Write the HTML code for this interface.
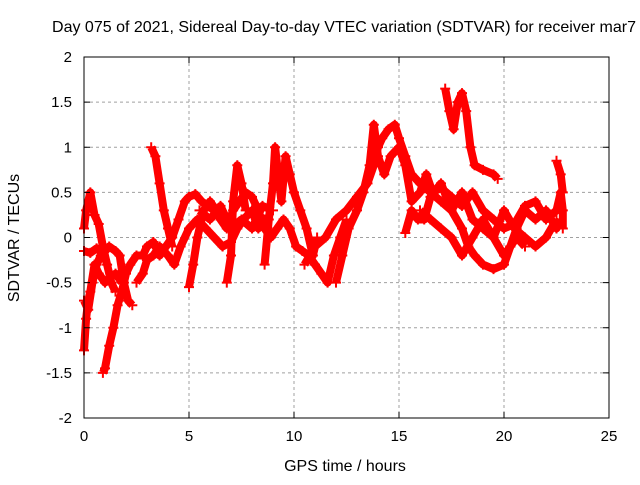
<!DOCTYPE html>
<html><head><meta charset="utf-8"><style>
body{margin:0;background:#fff}
text{font-family:"Liberation Sans",sans-serif;font-size:15px;fill:#000}
</style></head><body>
<svg id="c" width="640" height="480">
<rect width="640" height="480" fill="#fff"/>
<g id="grid"></g><g id="data"></g><g id="axes"></g>
<text x="344" y="32" text-anchor="middle" style="font-size:16px">Day 075 of 2021, Sidereal Day-to-day VTEC variation (SDTVAR) for receiver mar7</text>
<text x="345" y="471" text-anchor="middle" style="font-size:16px">GPS time / hours</text>
<text x="19" y="238" text-anchor="middle" style="font-size:16px" transform="rotate(-90 19 238)">SDTVAR / TECUs</text>
</svg>
<script>
const xTicks=[0,5,10,15,20,25];
const yTicks=[-2,-1.5,-1,-0.5,0,0.5,1,1.5,2];
const trackA=[[0,-0.15],[0.3,-0.17],[0.6,-0.12],[0.9,-0.18],[1.2,-0.1],[1.5,-0.15],[1.7,-0.2],[1.9,-0.5],[2.1,-0.7],[2.3,-0.75]];
const trackB=[[0,-1.25],[0.1,-0.9],[0.2,-0.7],[0.3,-0.6],[0.5,-0.3],[0.7,-0.4],[1.0,-0.5],[1.2,-0.45],[1.5,-0.4],[1.8,-0.5]];
const trackC=[[0,0.1],[0.1,0.3],[0.3,0.5],[0.5,0.25],[0.7,0.15],[0.9,-0.1],[1.1,-0.3],[1.3,-0.5],[1.5,-0.6]];
const trackC2=[[0,-0.7],[0.2,-0.8],[0.4,-0.5],[0.6,-0.3],[0.8,-0.2],[1.0,-0.25]];
const trackD=[[0.9,-1.5],[1.0,-1.45],[1.2,-1.2],[1.4,-1.0],[1.6,-0.75],[1.8,-0.6],[2.0,-0.4],[2.2,-0.3],[2.5,-0.2],[2.8,-0.2],[3.0,-0.1],[3.3,-0.05],[3.6,-0.2],[3.9,-0.1],[4.2,0.0],[4.5,0.2],[4.8,0.4],[5.0,0.45],[5.3,0.48],[5.6,0.4],[5.9,0.35],[6.2,0.3],[6.5,0.2],[6.8,0.1],[7.1,0.3],[7.4,0.4],[7.7,0.5],[8.0,0.45],[8.3,0.3],[8.6,0.1],[8.9,0.0],[9.2,0.1],[9.5,0.2],[9.8,0.1],[10.1,-0.1],[10.4,-0.15],[10.7,-0.2],[11.0,-0.3],[11.3,-0.4],[11.6,-0.5],[11.9,-0.2],[12.2,0.0],[12.5,0.2]];
const trackE=[[3.2,1.0],[3.4,0.9],[3.6,0.6],[3.8,0.3],[4.0,0.1],[4.2,-0.1]];
const trackF=[[2.5,-0.5],[2.8,-0.4],[3.0,-0.25],[3.3,-0.2],[3.6,-0.1],[4.0,-0.2],[4.3,-0.3],[4.6,-0.1],[5.0,0.1],[5.4,0.2],[5.8,0.1],[6.2,0.0],[6.6,-0.1],[7.0,-0.05],[7.3,0.1],[7.6,0.2],[8.0,0.3],[8.3,0.1],[8.6,0.2]];
const trackG=[[8.6,-0.3],[8.8,0.2],[9.0,0.6],[9.1,1.0],[9.2,0.8],[9.4,0.4],[9.6,0.9],[9.8,0.7],[10.0,0.5],[10.3,0.3],[10.6,0.1],[10.9,-0.2],[11.1,0.0]];
const trackH=[[6.8,-0.5],[7.0,-0.2],[7.1,0.4],[7.3,0.8],[7.5,0.6],[7.7,0.3]];
const trackI=[[5.0,-0.55],[5.2,-0.3],[5.4,0.0],[5.7,0.3],[6.0,0.4],[6.3,0.3]];
const trackJ=[[10.5,-0.3],[11.0,-0.1],[11.5,0.0],[12.0,0.2],[12.5,0.3],[13.0,0.45],[13.5,0.6],[13.8,0.8],[14.0,1.0],[14.2,1.1],[14.5,1.2],[14.8,1.25],[15.0,1.1],[15.3,0.9],[15.6,0.7],[16.0,0.6],[16.5,0.5],[17.0,0.4],[17.5,0.3],[18.0,0.1],[18.3,-0.1],[18.6,-0.2],[19.0,-0.3],[19.5,-0.35],[20.0,-0.3],[20.3,-0.1],[20.6,0.0],[21.0,-0.1]];
const trackK=[[12.0,-0.5],[12.3,-0.2],[12.6,0.1],[13.0,0.3],[13.3,0.5],[13.6,0.8],[13.8,1.25],[14.0,0.9],[14.3,0.7],[14.6,0.9],[15.0,1.0],[15.3,0.8],[15.6,0.4],[16.0,0.5],[16.3,0.7],[16.6,0.5],[17.0,0.55],[17.5,0.45],[18.0,0.35],[18.5,0.5],[19.0,0.3],[19.5,0.2],[20.0,0.1],[20.5,0.15],[21.0,0.35],[21.5,0.4],[22.0,0.2],[22.5,0.3],[22.7,0.5],[22.8,0.3],[22.8,0.1]];
const trackL=[[15.3,0.05],[15.6,0.3],[15.9,0.2],[16.2,0.2],[16.5,0.45],[17.0,0.6],[17.5,0.3],[18.0,0.5],[18.5,0.2],[19.0,0.1],[19.5,0.0],[20.0,-0.2],[20.3,-0.1],[20.6,0.1],[21.0,0.3],[21.5,0.2],[22.0,0.3],[22.5,0.1],[22.7,0.2]];
const trackM=[[17.2,1.65],[17.4,1.4],[17.6,1.2],[17.8,1.5],[18.0,1.6],[18.2,1.4],[18.4,1.0],[18.6,0.8],[19.0,0.75],[19.5,0.7],[19.7,0.65]];
const trackN=[[22.5,0.85],[22.7,0.7],[22.8,0.5]];
const trackO=[[16.0,0.3],[16.5,0.2],[17.0,0.1],[17.5,0.0],[18.0,-0.2],[18.5,0.0],[19.0,0.2],[19.5,0.0],[20.0,0.3],[20.5,0.1],[21.0,0.0],[21.5,-0.1],[22.0,0.0],[22.5,0.2]];
const trackP=[[5.5,0.3],[6.0,0.2],[6.5,0.35],[7.0,0.1],[7.5,0.2],[8.0,0.1],[8.5,0.35],[9.0,0.3]];
const tracks=[trackA,trackB,trackC,trackC2,trackD,trackE,trackF,trackG,trackH,trackI,trackJ,trackK,trackL,trackM,trackN,trackO,trackP];
const X0=84,X1=609,Y0=418,Y1=57;
const sx=t=>X0+(t-0)/(25-0)*(X1-X0);
const sy=v=>Y0-(v+2)/4*(Y0-Y1);
const NS='http://www.w3.org/2000/svg';
function mk(tag,attrs,parent){const e=document.createElementNS(NS,tag);for(const k in attrs)e.setAttribute(k,attrs[k]);parent.appendChild(e);return e;}
const grid=document.getElementById('grid'),axes=document.getElementById('axes'),data=document.getElementById('data');
xTicks.forEach(t=>{const x=sx(t);
 if(t>0&&t<25){const l=mk('line',{x1:x,x2:x,y1:Y1,y2:Y0,stroke:'#a0a0a0','stroke-dasharray':'3,3'},grid);
 
 }
 mk('line',{x1:x,x2:x,y1:Y0,y2:Y0-6,stroke:'#000'},axes);mk('line',{x1:x,x2:x,y1:Y1,y2:Y1+6,stroke:'#000'},axes);
 const tx=mk('text',{x:x,y:Y0+23,'text-anchor':'middle'},axes);tx.textContent=t;
 
 });
yTicks.forEach(v=>{const y=sy(v);
 if(v>-2&&v<2){const l=mk('line',{x1:X0,x2:X1,y1:y,y2:y,stroke:'#a0a0a0','stroke-dasharray':'3,3'},grid);
 
 }
 mk('line',{x1:X0,x2:X0+6,y1:y,y2:y,stroke:'#000'},axes);mk('line',{x1:X1,x2:X1-6,y1:y,y2:y,stroke:'#000'},axes);
 const tx=mk('text',{x:X0-12,y:y+5,'text-anchor':'end'},axes);tx.textContent=v;
 
 });
const fr=mk('rect',{x:X0,y:Y1,width:X1-X0,height:Y0-Y1,fill:'none',stroke:'#000'},axes);


tracks.forEach(tr=>{
 const pl=mk('polyline',{points:tr.map(p=>sx(p[0])+','+sy(p[1])).join(' '),fill:'none',stroke:'#f00','stroke-width':8,'stroke-linejoin':'round'},data);
 
 
 tr.forEach(p=>{const x=sx(p[0]),y=sy(p[1]);
  const m=mk('path',{d:`M${x-5},${y}H${x+5}M${x},${y-5}V${y+5}`,stroke:'#f00','stroke-width':2},data);
  
  });
});
</script>
</body></html>
